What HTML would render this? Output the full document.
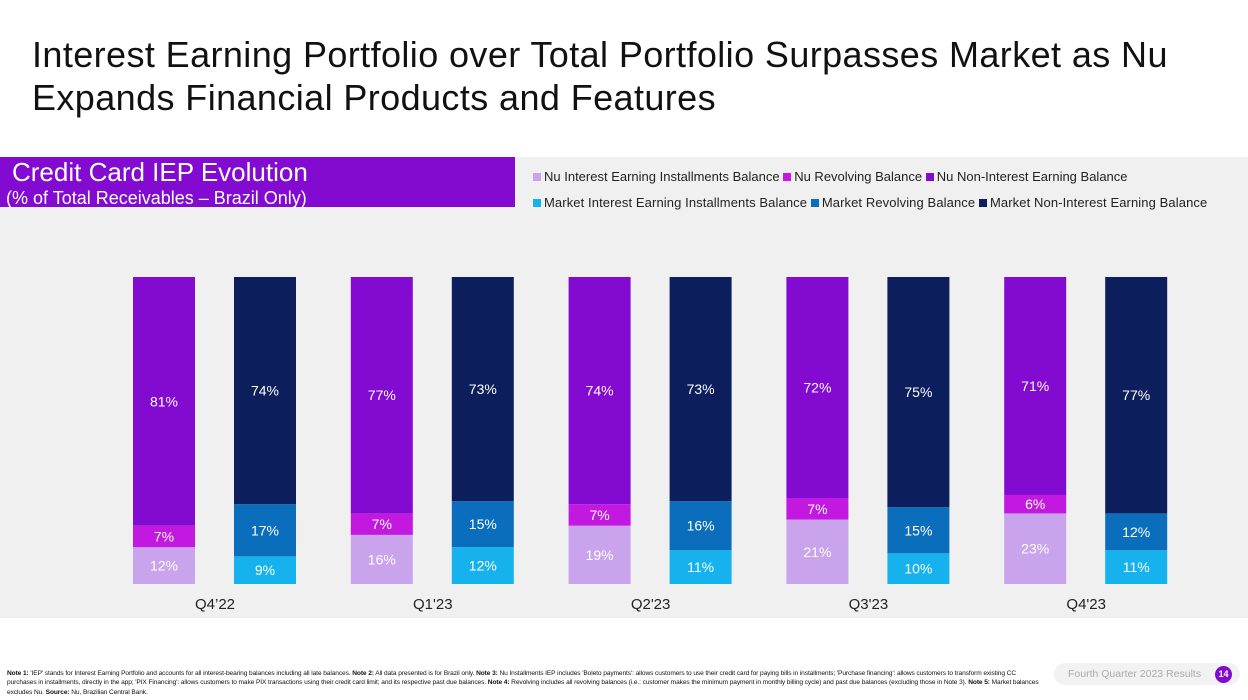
<!DOCTYPE html>
<html><head><meta charset="utf-8"><style>
body{margin:0;width:1248px;height:700px;background:#fff;font-family:"Liberation Sans",sans-serif;position:relative;overflow:hidden}
.t{position:absolute;left:32px;top:33px;font-size:36px;line-height:43px;color:#111;letter-spacing:0.4px;white-space:nowrap}
.panel{position:absolute;left:0;top:157px;width:1248px;height:461px;background:#f0f0f0}
.hdr{position:absolute;left:0;top:157px;width:515px;height:50px;background:#820ad1;color:#fff}
.leg{position:absolute;font-size:13px;color:#222;white-space:nowrap}
.leg span.sw{display:inline-block;width:8px;height:8px;margin-right:3px;vertical-align:0px}
.note{position:absolute;left:7px;top:669px;width:1040px;font-size:6.6px;line-height:9.3px;color:#111;letter-spacing:-0.1px}
</style></head><body>
<div class="t">Interest Earning Portfolio over Total Portfolio Surpasses Market as Nu<br>Expands Financial Products and Features</div>
<div class="panel"></div>
<div class="hdr">
<div style="position:absolute;left:12px;top:0px;font-size:26px;white-space:nowrap">Credit Card IEP Evolution</div>
<div style="position:absolute;left:6px;top:31px;font-size:18px;white-space:nowrap">(% of Total Receivables – Brazil Only)</div>
</div>
<div class="leg" style="left:533px;top:169px">
<span><span class="sw" style="background:#c9a3ec"></span>Nu Interest Earning Installments Balance</span>
<span><span class="sw" style="background:#c218e0"></span>Nu Revolving Balance</span>
<span><span class="sw" style="background:#820ad1"></span>Nu Non-Interest Earning Balance</span></div>
<div class="leg" style="left:533px;top:195px;letter-spacing:0.1px">
<span><span class="sw" style="background:#16b2ee"></span>Market Interest Earning Installments Balance</span>
<span><span class="sw" style="background:#0a6ebd"></span>Market Revolving Balance</span>
<span><span class="sw" style="background:#0c1f5c"></span>Market Non-Interest Earning Balance</span></div>
<svg id="chart" width="1248" height="700" style="position:absolute;left:0;top:0"></svg>
<div class="note"><b>Note 1:</b> 'IEP' stands for Interest Earning Portfolio and accounts for all interest-bearing balances including all late balances. <b>Note 2:</b> All data presented is for Brazil only. <b>Note 3:</b> Nu Installments IEP includes 'Boleto payments': allows customers to use their credit card for paying bills in installments; 'Purchase financing': allows customers to transform existing CC purchases in installments, directly in the app; 'PIX Financing': allows customers to make PIX transactions using their credit card limit; and its respective past due balances. <b>Note 4:</b> Revolving includes all revolving balances (i.e.: customer makes the minimum payment in monthly billing cycle) and past due balances (excluding those in Note 3). <b>Note 5:</b> Market balances excludes Nu. <b>Source:</b> Nu, Brazilian Central Bank.</div>
<div style="position:absolute;left:1054px;top:663px;width:186px;height:22px;background:#f2f2f2;border-radius:11px">
<span style="position:absolute;left:14px;top:5px;font-size:10.5px;color:#aaa">Fourth Quarter 2023 Results</span>
<span style="position:absolute;left:161px;top:3px;width:17px;height:17px;border-radius:50%;background:#820ad1;color:#fff;font-size:9px;font-weight:bold;text-align:center;line-height:17px">14</span></div>
<script>
const categories=["Q4’22","Q1'23","Q2'23","Q3'23","Q4'23"];
const nuInstallments=[12,16,19,21,23];
const nuRevolving=[7,7,7,7,6];
const nuNonIep=[81,77,74,72,71];
const mkInstallments=[9,12,11,10,11];
const mkRevolving=[17,15,16,15,12];
const mkNonIep=[74,73,73,75,77];
const svg=document.getElementById('chart');
const NS='http://www.w3.org/2000/svg';
const base=584, scale=3.07, barW=62;
function y(v){return base-v*scale;}
function gx(i){return 133+i*217.8;}
function stack(x,vals,cols,txt,key,i){
 let acc=0;
 vals.forEach((v,k)=>{
  const r=document.createElementNS(NS,'rect');
  r.setAttribute('x',x);r.setAttribute('y',y(acc+v));r.setAttribute('width',barW);r.setAttribute('height',v*scale);r.setAttribute('fill',cols[k]);
  
  
  svg.appendChild(r);
  const t=document.createElementNS(NS,'text');
  t.setAttribute('x',x+barW/2);t.setAttribute('y',y(acc+v/2)+5);t.setAttribute('text-anchor','middle');
  t.setAttribute('font-size','14');t.setAttribute('fill',txt[k]);t.setAttribute('font-family','Liberation Sans, sans-serif');
  t.textContent=v+'%';
  
  
  svg.appendChild(t);
  acc+=v;
 });
}
categories.forEach((c,i)=>{
 const x=gx(i);
 stack(x,[nuInstallments[i],nuRevolving[i],nuNonIep[i]],['#c9a3ec','#c218e0','#820ad1'],['#fff','#fff','#fff'],['nu-installments','nu-revolving','nu-non-iep'],i);
 stack(x+101,[mkInstallments[i],mkRevolving[i],mkNonIep[i]],['#16b2ee','#0a6ebd','#0c1f5c'],['#fff','#fff','#fff'],['market-installments','market-revolving','market-non-iep'],i);
 const t=document.createElementNS(NS,'text');
 t.setAttribute('x',x+82);t.setAttribute('y',609);t.setAttribute('text-anchor','middle');t.setAttribute('font-size','15');t.setAttribute('fill','#222');t.setAttribute('font-family','Liberation Sans, sans-serif');
 t.textContent=c;
 
 
 svg.appendChild(t);
});
</script>
</body></html>
